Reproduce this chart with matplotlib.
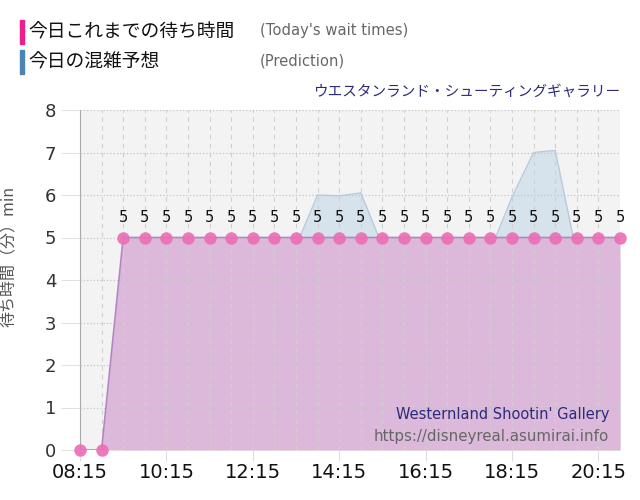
import matplotlib
matplotlib.use("Agg")
import matplotlib.pyplot as plt
import numpy as np

plt.rcParams['font.family'] = ['DejaVu Sans', 'Noto Sans CJK JP']

# data
times = ["08:15", "08:45", "09:15", "09:45", "10:15", "10:45", "11:15", "11:45",
         "12:15", "12:45", "13:15", "13:45", "14:15", "14:45", "15:15", "15:45",
         "16:15", "16:45", "17:15", "17:45", "18:15", "18:45", "19:15", "19:45",
         "20:15", "20:45"]
wait = [0, 0, 5, 5, 5, 5, 5, 5,
        5, 5, 5, 5, 5, 5, 5, 5,
        5, 5, 5, 5, 5, 5, 5, 5,
        5, 5]
prediction = [np.nan, np.nan, 4.5, 4.5, 4.5, 4.5, 4.5, 4.5,
              4.5, 4.6, 4.8, 6.0, 5.98, 6.05, 4.8, 4.5,
              4.5, 4.5, 4.6, 4.7, 5.95, 7.0, 7.05, 4.6,
              4.5, 4.5]
tick_labels = ["08:15", "10:15", "12:15", "14:15", "16:15", "18:15", "20:15"]


def to_hours(s):
    h, m = s.split(":")
    return int(h) + int(m) / 60.0


x = np.array([to_hours(t) for t in times])
wait = np.array(wait, dtype=float)
prediction = np.array(prediction, dtype=float)

fig = plt.figure(figsize=(6.4, 5.0), dpi=100)
ax = fig.add_axes([80 / 640, 1 - 450 / 500, 540 / 640, 340 / 500])
ax.set_facecolor('#f3f3f3')

# prediction area (behind)
ok = ~np.isnan(prediction)
ax.fill_between(x[ok], 0, prediction[ok], color='#d6e2ec', zorder=2, lw=0)
ax.plot(x[ok], prediction[ok], color='#b9cbdb', lw=1, zorder=2)

# today's wait times
ax.fill_between(x, 0, wait, color='#dcb9da', zorder=3, lw=0)

# grid drawn over the fills
for xi in x[1:-1]:
    ax.axvline(xi, ls=(0, (4, 4)), color='#cfcfcf', lw=0.8, zorder=3.5)
for yi in range(1, 9):
    ax.axhline(yi, ls=':', color='#c4c4c4', lw=0.9, zorder=3.5)

ax.plot(x, wait, color='#b585c3', lw=1.2, zorder=4)
ax.plot(x, wait, 'o', ms=9, color='#ec6db5', alpha=0.9, mec='none',
        zorder=5, clip_on=False)
for xi, v in zip(x, wait):
    if v > 0:
        ax.annotate(f"{v:g}", (xi, v), xytext=(0, 9), textcoords='offset points',
                    ha='center', va='bottom', fontsize=10.5, color='#111', zorder=6)

ax.set_xlim(x[0], x[-1])
ax.set_ylim(0, 8)
ax.set_xticks([to_hours(t) for t in tick_labels])
ax.set_xticklabels(tick_labels, fontsize=14, color='#111')
ax.set_yticks(range(0, 9))
ax.set_yticklabels([str(i) for i in range(0, 9)], fontsize=13, color='#333')
ax.tick_params(axis='x', length=8, color='#dddddd', pad=1)
ax.tick_params(axis='y', length=14, color='#e2e2e2', pad=3)

for s in ['top', 'right', 'bottom']:
    ax.spines[s].set_visible(False)
ax.spines['left'].set_color('#aaaaaa')

ax.set_ylabel('待ち時間（分）min', fontsize=11.5, color='#555555',
              family=['Noto Sans CJK JP', 'DejaVu Sans'])
ax.yaxis.set_label_coords(-0.115, 0.57)

# header legend
fig.patches.append(plt.Rectangle((20 / 640, 1 - 44 / 500), 4 / 640, 24 / 500,
                                 transform=fig.transFigure, color='#f01e8c'))
fig.patches.append(plt.Rectangle((20 / 640, 1 - 74 / 500), 4 / 640, 24 / 500,
                                 transform=fig.transFigure, color='#4a85b4'))
fig.text(28 / 640, 1 - 32 / 500, '今日これまでの待ち時間', fontsize=13.5,
         va='center', color='#111', family=['Noto Sans CJK JP', 'DejaVu Sans'])
fig.text(28 / 640, 1 - 62 / 500, '今日の混雑予想', fontsize=13.5,
         va='center', color='#111', family=['Noto Sans CJK JP', 'DejaVu Sans'])
fig.text(260 / 640, 1 - 31 / 500, "(Today's wait times)", fontsize=10.6,
         va='center', color='#666666')
fig.text(260 / 640, 1 - 61 / 500, "(Prediction)", fontsize=10.6,
         va='center', color='#666666')
fig.text(620 / 640, 1 - 92 / 500, 'ウエスタンランド・シューティングギャラリー',
         fontsize=10.5, ha='right', va='center', color='#2b2b7b',
         family=['Noto Sans CJK JP', 'DejaVu Sans'])

# watermark
ax.text(0.98, (450 - 415) / 340, "Westernland Shootin' Gallery", transform=ax.transAxes,
        ha='right', va='center', fontsize=10.5, color='#2b2b7b', zorder=7)
ax.text(0.98, (450 - 437) / 340, "https://disneyreal.asumirai.info", transform=ax.transAxes,
        ha='right', va='center', fontsize=10.8, color='#666666', zorder=7)

fig.savefig('out.png', dpi=100)
